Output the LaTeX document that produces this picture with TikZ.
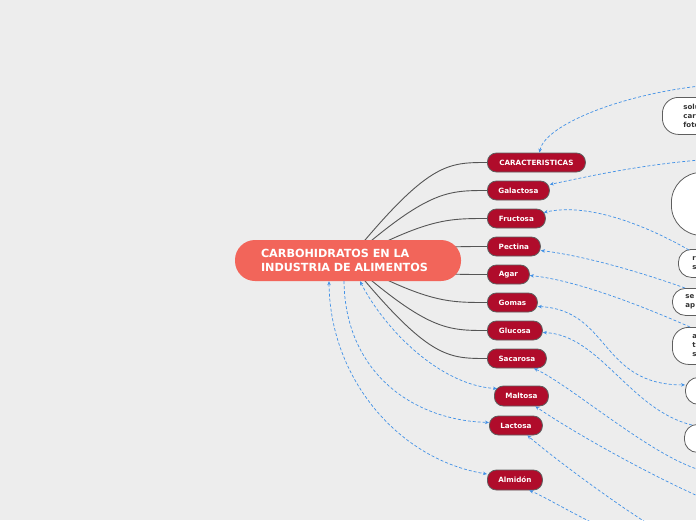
\documentclass[tikz,border=0pt]{standalone}
\usepackage{fontspec}
\setmainfont{DejaVu Sans}
\usetikzlibrary{arrows.meta,calc,backgrounds}
\definecolor{bgc}{HTML}{EDEDED}
\definecolor{rootred}{HTML}{F2655A}
\definecolor{kidred}{HTML}{B00C2B}
\definecolor{kidborder}{HTML}{5E5E5E}
\definecolor{linkgray}{HTML}{555555}
\definecolor{depblue}{HTML}{4291E6}
\definecolor{boxtext}{HTML}{333333}
\tikzset{
  rootbox/.style={fill=rootred, text=white, font=\bfseries\fontsize{11.2}{14}\selectfont,
    rounded corners=20pt, minimum width=226pt, minimum height=41pt,
    text width=174pt, align=left, inner xsep=26pt, inner ysep=0pt},
  kid/.style={fill=kidred, draw=kidborder, line width=0.8pt, rounded corners=9pt,
    minimum height=19pt, inner sep=0pt, text=white,
    font=\bfseries\fontsize{7.2}{8}\selectfont, anchor=west},
  rbox/.style={fill=white, draw=kidborder, line width=0.8pt, anchor=north west,
    text=boxtext, font=\bfseries\fontsize{7}{9}\selectfont, align=left,
    text width=50pt, inner ysep=0pt},
  link/.style={draw=linkgray, line width=0.9pt},
  dep/.style={draw=depblue, line width=0.7pt, dash pattern=on 3pt off 2pt,
    -{Stealth[length=4pt,width=3.5pt]}},
  depboth/.style={draw=depblue, line width=0.7pt, dash pattern=on 3pt off 2pt,
    {Stealth[length=4pt,width=3.5pt]}-{Stealth[length=4pt,width=3.5pt]}},
}
\begin{document}
\begin{tikzpicture}[x=1pt,y=-1pt]
\useasboundingbox (0,0) rectangle (696,520);
\clip (0,0) rectangle (696,520);

% root
\node[rootbox] (root) at (348,260.5) {CARBOHIDRATOS EN LA\\INDUSTRIA DE ALIMENTOS};
\coordinate (rk) at (428,260.5);

% children
\node[kid, minimum width=98pt] (c1) at (487,162.5) {CARACTERISTICAS};
\node[kid, minimum width=62pt] (c2) at (487,190.5) {Galactosa};
\node[kid, minimum width=58pt] (c3) at (487,218.5) {Fructosa};
\node[kid, minimum width=53pt] (c4) at (487,246.5) {Pectina};
\node[kid, minimum width=42pt] (c5) at (487,274.5) {Agar};
\node[kid, minimum width=50pt] (c6) at (487,302.5) {Gomas};
\node[kid, minimum width=55pt] (c7) at (487,330.5) {Glucosa};
\node[kid, minimum width=59pt] (c8) at (487,358.5) {Sacarosa};
\node[kid, minimum width=54pt, minimum height=20pt] (c9) at (494,396) {Maltosa};
\node[kid, minimum width=53pt] (c10) at (489,425.5) {Lactosa};
\node[kid, minimum width=55pt, minimum height=20pt] (c11) at (487,480) {Almidón};

% right-hand boxes (cut by the edge)
\node[rbox, rounded corners=16pt, minimum height=37pt, inner xsep=21pt] (bA) at (662,97) {solu\\carb\\foto};
\node[rbox, rounded corners=30pt, minimum height=63pt, minimum width=100pt] (bB) at (671,172) {};
\node[rbox, rounded corners=13pt, minimum height=28pt, inner xsep=14pt] (bC) at (678,249) {r\\s};
\node[rbox, rounded corners=13pt, minimum height=27pt, inner xsep=13pt] (bD) at (672,288) {se\\ap};
\node[rbox, rounded corners=16pt, minimum height=37pt, inner xsep=20pt] (bE) at (672,327) {a\\t\\s};
\node[rbox, rounded corners=13pt, minimum height=27pt, minimum width=80pt] (bF) at (685,377) {};
\node[rbox, rounded corners=13pt, minimum height=28pt, minimum width=80pt] (bG) at (684,424) {};

\begin{scope}[on background layer]
\fill[bgc] (0,0) rectangle (696,520);
\foreach \k in {c1,c2,c3,c4,c5,c6,c7,c8}{
  \draw[link] (root.center) .. controls (rk |- \k.west) and ($(\k.west)+(-40,0)$) .. (\k.west);
}
\end{scope}

% off-canvas ends
\coordinate (e1) at (700,86);
\coordinate (e2) at (700,160);
\coordinate (e8) at (700,470);
\coordinate (e9) at (700,497);
\coordinate (e10) at (650,525);
\coordinate (e11) at (595,524);

% dashed relations
\draw[dep] (e1) .. controls (620,95) and (545,125) .. ($(c1.north)+(3,0)$);
\draw[dep] (e2) .. controls (640,165) and (590,176) .. ($(c2.east)+(0,-6)$);
\draw[dep] ($(bC.north west)+(11,1)$) .. controls (640,222) and (585,203) .. ($(c3.east)+(-2,-6)$);
\draw[dep] ($(bD.north west)+(13,0)$) .. controls (640,272) and (585,256) .. ($(c4.east)+(0,4)$);
\draw[dep] ($(bE.north west)+(18,0)$) .. controls (640,305) and (575,280) .. ($(c5.east)+(0,1)$);
\draw[depboth] ($(c6.east)+(0,4)$) .. controls (610,310) and (600,385) .. ($(bF.west)+(0,-6)$);
\draw[dep] ($(bG.north west)+(8,1)$) .. controls (630,410) and (600,335) .. ($(c7.east)+(0,2)$);
\draw[dep] (e8) .. controls (650,455) and (570,385) .. ($(c8.south)+(17,0)$);
\draw[dep] (e9) .. controls (640,470) and (570,430) .. ($(c9.south)+(14,0)$);
\draw[dep] (e10) .. controls (610,500) and (550,455) .. ($(c10.south)+(11.5,0)$);
\draw[dep] (e11) .. controls (570,512) and (545,497) .. ($(c11.south)+(14.5,0)$);

\draw[depboth] ($(root.south)+(12,0)$) .. controls (385,330) and (440,385) .. ($(c9.north west)+(3,3)$);
\draw[dep] ($(root.south)+(-4,0)$) .. controls (345,370) and (410,420) .. ($(c10.west)+(0,-3)$);
\draw[depboth] ($(root.south)+(-19,0)$) .. controls (330,380) and (400,460) .. ($(c11.west)+(0,-6)$);
\end{tikzpicture}
\end{document}
